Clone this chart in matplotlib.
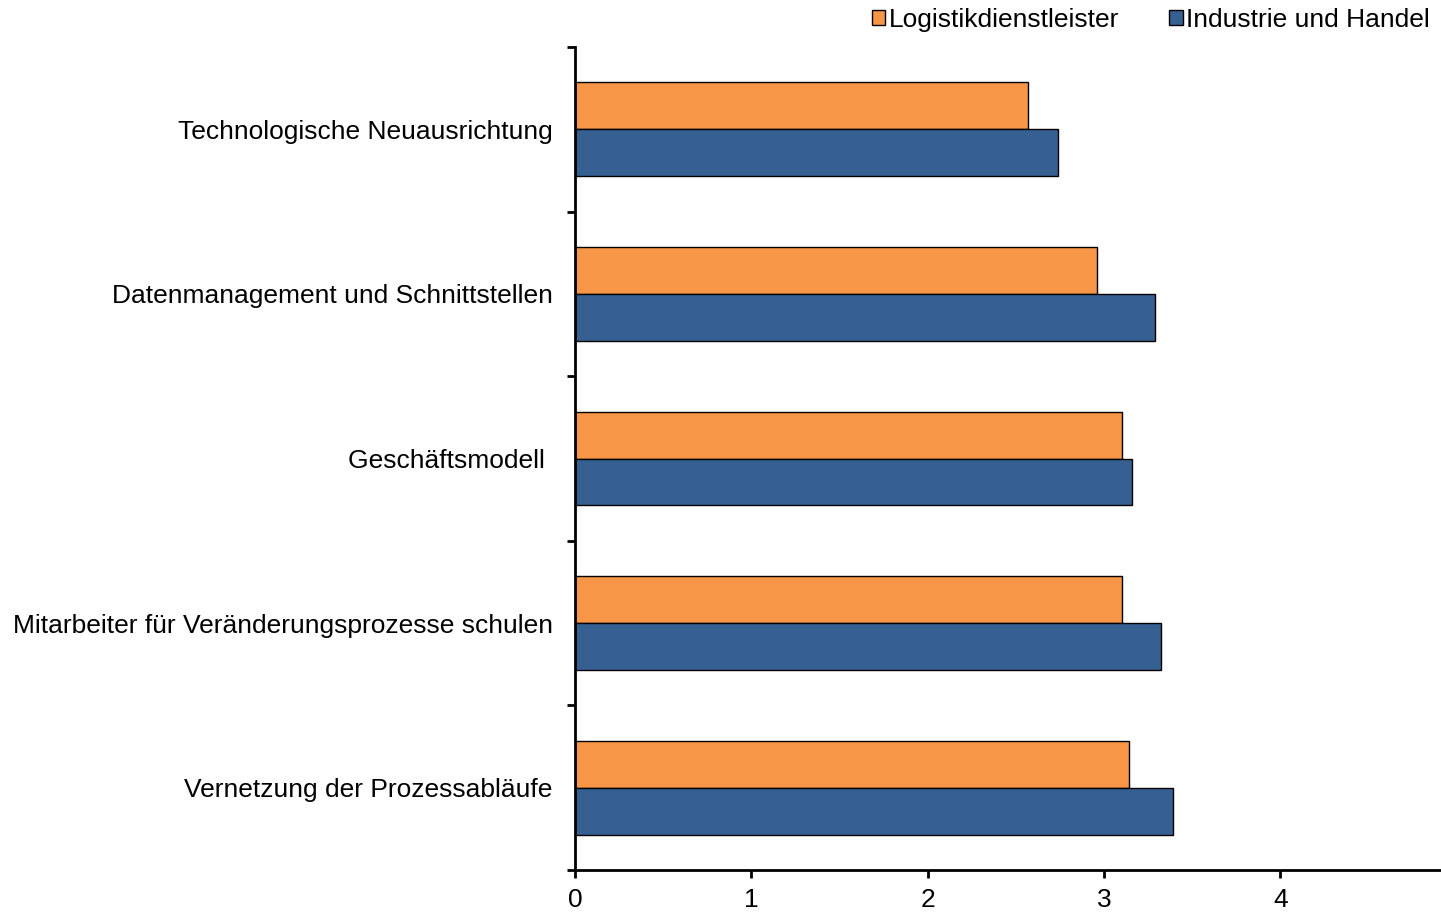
import numpy as np
import matplotlib.pyplot as plt
from matplotlib.patches import Patch

plt.rcParams['font.family'] = ['Liberation Sans', 'DejaVu Sans']

categories = ['Technologische Neuausrichtung',
              'Datenmanagement und Schnittstellen',
              'Geschäftsmodell ',
              'Mitarbeiter für Veränderungsprozesse schulen',
              'Vernetzung der Prozessabläufe']
logistik = [2.57, 2.96, 3.10, 3.10, 3.14]
industrie = [2.74, 3.29, 3.16, 3.32, 3.39]
series_names = ['Logistikdienstleister', 'Industrie und Handel']
orange = '#F79646'
blue = '#366092'

fig = plt.figure(figsize=(14.41, 9.14), dpi=100)
ax = fig.add_axes([0.399, 0.048, 0.601, 0.9006])

y = np.arange(len(categories))
h = 0.285
ax.barh(y - h / 2, logistik, height=h, color=orange, edgecolor='black', linewidth=1)
ax.barh(y + h / 2, industrie, height=h, color=blue, edgecolor='black', linewidth=1)

ax.set_ylim(len(categories) - 0.5, -0.5)
ax.set_xlim(0, 4.91)
ax.set_xticks([0, 1, 2, 3, 4])

# category labels on major ticks, group separators on minor ticks
ax.set_yticks(y)
ax.set_yticklabels(categories)
ax.set_yticks(np.arange(-0.5, len(categories)), minor=True)
ax.tick_params(axis='y', which='major', length=0, pad=16, labelsize=19)
ax.tick_params(axis='y', which='minor', length=6, width=2)
ax.tick_params(axis='x', length=6, width=2, pad=7, labelsize=19)

for side in ['top', 'right']:
    ax.spines[side].set_visible(False)
for side in ['left', 'bottom']:
    ax.spines[side].set_linewidth(2)

handles = [Patch(facecolor=orange, edgecolor='black', linewidth=1),
           Patch(facecolor=blue, edgecolor='black', linewidth=1)]
fig.legend(handles, series_names, loc='upper right', bbox_to_anchor=(1.009, 1.017),
           ncol=2, frameon=False, fontsize=19, handlelength=0.5, handleheight=0.5,
           handletextpad=0.15, columnspacing=1.9)

fig.savefig('out.png', dpi=100)
